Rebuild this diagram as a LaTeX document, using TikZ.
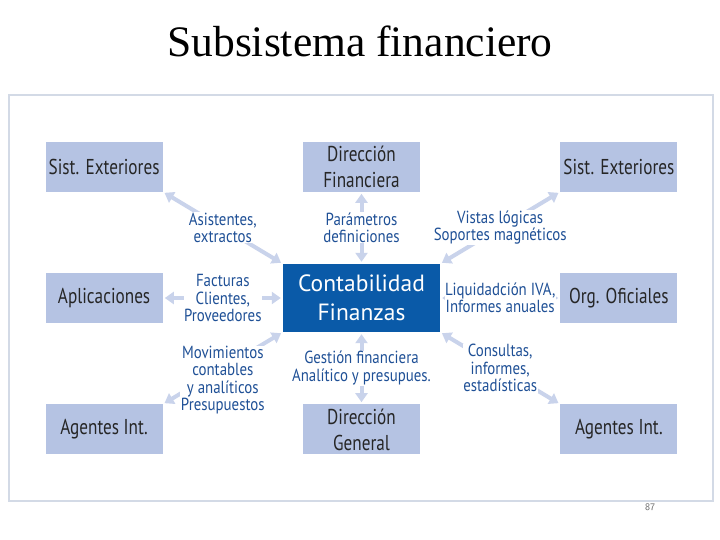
\documentclass[tikz,border=0pt]{standalone}
\usepackage{fontspec}
\setmainfont{Liberation Serif}
\newfontfamily\boxfont[FakeStretch=0.8]{PT Sans}
\newfontfamily\lblfont[FakeStretch=0.85]{PT Sans}
\newfontfamily\corefont{PT Sans}
\usetikzlibrary{arrows.meta, positioning}

\definecolor{boxblue}{HTML}{B5C3E3}
\definecolor{coreblue}{HTML}{0A5AA8}
\definecolor{labelblue}{HTML}{1F5096}
\definecolor{arrowblue}{HTML}{C9D3EB}
\definecolor{framegray}{HTML}{D3DAE6}

\begin{document}
\begin{tikzpicture}[
  x=1pt, y=-1pt,
  >={Triangle[length=9pt,width=12pt]},
  node distance=72pt and 120pt,
  box/.style={fill=boxblue, minimum width=117pt, minimum height=50pt, inner sep=0pt, align=center, text=black!85, font=\boxfont\fontsize{21.5}{26}\selectfont},
  core/.style={fill=coreblue, minimum width=157pt, minimum height=68pt, inner sep=0pt, align=center, text=white, font=\corefont\fontsize{23.5}{29}\selectfont},
  flow/.style={<->, draw=arrowblue, line width=4pt, shorten <=2pt, shorten >=2pt},
  lbl/.style={align=center, fill=white, inner sep=0.5pt, text=labelblue, font=\lblfont\fontsize{17.5}{17.5}\selectfont}
]
\useasboundingbox (0,0) rectangle (720,540);

\node[anchor=base, font=\fontsize{43.5}{48}\selectfont] (titulo) at (360,57) {Subsistema financiero};
\draw[framegray, line width=2pt] (9,95) rectangle (713,501);
\node[text=black!60, font=\sffamily\fontsize{10}{10}\selectfont] (pagina) at (650,507) {87};

% nodo central y vecinos
\node[core] (conta) at (361.5,298) {Contabilidad\\Finanzas};
\node[box, left=of conta] (aplic) {Aplicaciones};
\node[box, right=of conta] (orgof) {Org. Oficiales};
\node[box, above=of conta] (dirfin) {Dirección\\Financiera};
\node[box, below=of conta] (dirgen) {Dirección\\General};

% esquinas
\node[box] (sistizq) at (aplic |- dirfin) {Sist. Exteriores};
\node[box] (sistder) at (orgof |- dirfin) {Sist. Exteriores};
\node[box] (agizq) at (aplic |- dirgen) {Agentes Int.};
\node[box] (agder) at (orgof |- dirgen) {Agentes Int.};

\draw[flow] (sistizq.south east) -- node[lbl]{Asistentes,\\extractos} (conta.north west);
\draw[flow] (dirfin) -- node[lbl]{Parámetros\\definiciones} (conta);
\draw[flow] (sistder.south west) -- node[lbl]{Vistas lógicas\\Soportes magnéticos} (conta.north east);
\draw[flow] (aplic) -- node[lbl]{Facturas\\Clientes,\\Proveedores} (conta);
\draw[flow] (orgof) -- node[lbl]{Liquidadción IVA,\\Informes anuales} (conta);
\draw[flow] (agizq.north east) -- node[lbl, yshift=-12pt]{Movimientos\\contables\\y analíticos\\Presupuestos} (conta.south west);
\draw[flow] (dirgen) -- node[lbl]{Gestión financiera\\Analítico y presupues.} (conta);
\draw[flow] (agder.north west) -- node[lbl]{Consultas,\\informes,\\estadísticas} (conta.south east);
\end{tikzpicture}
\end{document}
